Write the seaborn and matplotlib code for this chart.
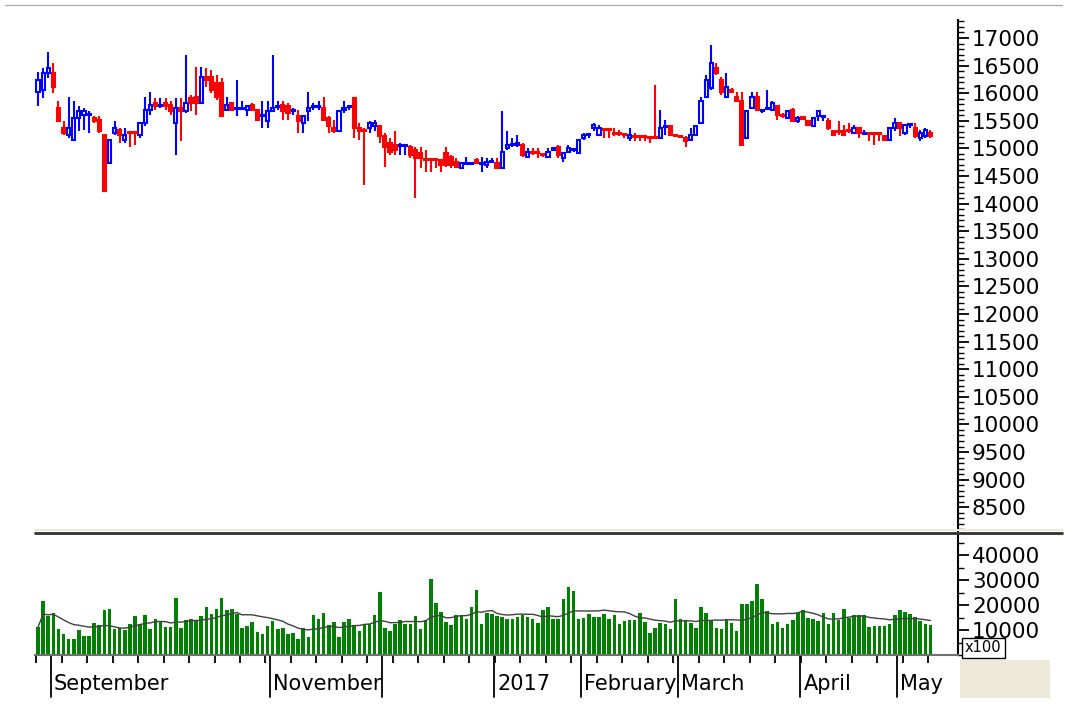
import numpy as np
import pandas as pd
import matplotlib
matplotlib.use("Agg")
import matplotlib.pyplot as plt
import matplotlib.transforms as mtransforms
from matplotlib.patches import Rectangle
from matplotlib.lines import Line2D
from matplotlib.ticker import MultipleLocator, FixedLocator, NullFormatter
import seaborn as sns

# daily OHLC, late Aug 2016 - early May 2017
opens = [
    16030, 16060, 16360, 16360, 15730, 15370, 15250, 15160, 15550, 15610,
    15600, 15550, 15520, 15250, 14730, 15280, 15340, 15160, 15300, 15300,
    15250, 15460, 15700, 15820, 15760, 15820, 15790, 15460, 15730, 15670,
    15910, 15940, 15820, 16300, 16300, 16180, 16180, 15700, 15820, 15720,
    15720, 15700, 15790, 15700, 15580, 15490, 15670, 15750, 15790, 15760,
    15670, 15580, 15460, 15670, 15750, 15750, 15730, 15550, 15370, 15310,
    15700, 15750, 15910, 15370, 15340, 15370, 15400, 15400, 15220, 15100,
    15070, 15050, 15050, 15030, 14970, 14910, 14800, 14800, 14800, 14790,
    14910, 14850, 14760, 14640, 14720, 14720, 14790, 14720, 14700, 14750,
    14730, 14640, 15000, 15060, 15070, 15070, 14850, 14920, 14920, 14890,
    14850, 14980, 15030, 14820, 14940, 14970, 14910, 15190, 15240, 15370,
    15250, 15340, 15340, 15280, 15280, 15250, 15190, 15220, 15220, 15220,
    15190, 15190, 15190, 15390, 15400, 15250, 15220, 15190, 15160, 15250,
    15460, 15940, 16090, 16450, 16240, 15940, 16060, 15940, 15850, 15190,
    15730, 15940, 15670, 15720, 15700, 15760, 15610, 15550, 15700, 15490,
    15560, 15490, 15400, 15580, 15570, 15490, 15310, 15310, 15310, 15340,
    15280, 15370, 15270, 15280, 15280, 15280, 15220, 15160, 15370, 15460,
    15280, 15420, 15370, 15190, 15220, 15280,
]
highs = [
    16390, 16450, 16750, 16550, 15850, 15490, 15940, 15850, 15760, 15730,
    15670, 15580, 15580, 15250, 15160, 15490, 15370, 15370, 15310, 15310,
    15460, 15940, 16030, 15910, 15910, 15910, 15850, 15910, 15910, 16690,
    15970, 16480, 16480, 16450, 16420, 16330, 16270, 15940, 15820, 16240,
    15850, 15790, 15820, 15700, 15850, 15850, 16690, 15850, 15850, 15820,
    15730, 15700, 15580, 16030, 15820, 15850, 15940, 15580, 15520, 15670,
    15850, 15790, 15910, 15460, 15370, 15490, 15520, 15430, 15280, 15190,
    15310, 15100, 15070, 15070, 15030, 15030, 14970, 14820, 14820, 14790,
    15030, 14880, 14820, 14730, 14850, 14760, 14820, 14850, 14820, 14820,
    14820, 15670, 15310, 15190, 15250, 15100, 15000, 15000, 15000, 14910,
    15000, 15000, 15070, 14940, 15070, 15000, 15160, 15280, 15250, 15460,
    15430, 15370, 15370, 15370, 15340, 15280, 15370, 15280, 15250, 15250,
    15190, 16150, 15700, 15520, 15400, 15270, 15250, 15220, 15370, 15400,
    15940, 16330, 16870, 16540, 16300, 16360, 16090, 16030, 16030, 15670,
    16030, 16030, 15700, 16060, 15850, 15760, 15640, 15700, 15730, 15580,
    15580, 15520, 15550, 15670, 15610, 15550, 15340, 15490, 15430, 15460,
    15430, 15370, 15340, 15280, 15280, 15280, 15250, 15370, 15550, 15460,
    15430, 15430, 15460, 15340, 15370, 15340,
]
lows = [
    15760, 15910, 16270, 16000, 15490, 15250, 15190, 15130, 15310, 15340,
    15280, 15460, 15280, 14220, 14730, 15250, 15100, 15100, 15030, 15070,
    15190, 15400, 15610, 15700, 15730, 15700, 15610, 14880, 15130, 15640,
    15670, 15610, 15820, 16120, 16000, 15880, 15580, 15670, 15700, 15580,
    15700, 15580, 15670, 15490, 15370, 15370, 15670, 15700, 15520, 15520,
    15610, 15280, 15280, 15490, 15700, 15700, 15490, 15280, 15280, 15310,
    15640, 15700, 15190, 15160, 14340, 15280, 15310, 15100, 14660, 14880,
    14880, 14880, 14880, 14820, 14100, 14640, 14580, 14580, 14640, 14580,
    14670, 14640, 14640, 14640, 14700, 14700, 14730, 14580, 14640, 14730,
    14640, 14640, 14970, 15030, 15030, 14850, 14850, 14880, 14820, 14850,
    14850, 14970, 14820, 14760, 14910, 14940, 14910, 15160, 15190, 15310,
    15250, 15190, 15190, 15220, 15220, 15190, 15130, 15130, 15130, 15130,
    15100, 15180, 15190, 15250, 15250, 15200, 15190, 15030, 15130, 15220,
    15460, 15940, 16060, 16330, 15970, 15940, 16000, 15850, 15070, 15190,
    15730, 15670, 15640, 15700, 15700, 15520, 15550, 15550, 15490, 15460,
    15520, 15430, 15400, 15490, 15490, 15340, 15250, 15250, 15250, 15280,
    15280, 15190, 15250, 15130, 15070, 15130, 15160, 15130, 15310, 15220,
    15250, 15370, 15190, 15130, 15190, 15190,
]
closes = [
    16240, 16360, 16450, 16120, 15490, 15280, 15370, 15550, 15670, 15670,
    15610, 15490, 15310, 14220, 15160, 15370, 15250, 15250, 15280, 15280,
    15460, 15700, 15790, 15760, 15790, 15760, 15670, 15730, 15670, 15820,
    15820, 15820, 16300, 16240, 16060, 15940, 15580, 15790, 15700, 15730,
    15730, 15760, 15700, 15520, 15610, 15670, 15730, 15760, 15670, 15640,
    15700, 15490, 15580, 15730, 15760, 15760, 15520, 15400, 15310, 15670,
    15730, 15760, 15370, 15310, 15310, 15460, 15460, 15220, 15030, 14940,
    14970, 15065, 15065, 14880, 14820, 14820, 14790, 14790, 14790, 14700,
    14700, 14700, 14670, 14730, 14730, 14730, 14730, 14730, 14760, 14760,
    14640, 14940, 15070, 15070, 15100, 14880, 14940, 14910, 14910, 14880,
    14940, 15000, 14880, 14910, 15000, 14980, 15160, 15250, 15250, 15430,
    15370, 15330, 15330, 15270, 15270, 15240, 15250, 15210, 15210, 15210,
    15180, 15180, 15370, 15400, 15250, 15220, 15210, 15130, 15250, 15400,
    15850, 16240, 16540, 16360, 16030, 16120, 16030, 15850, 15070, 15670,
    15940, 15700, 15700, 15730, 15820, 15610, 15580, 15670, 15490, 15550,
    15540, 15430, 15550, 15670, 15580, 15370, 15250, 15300, 15250, 15310,
    15370, 15280, 15280, 15270, 15270, 15270, 15160, 15370, 15460, 15370,
    15430, 15430, 15220, 15280, 15340, 15220,
]
# volume (x100)
volume = [
    11200, 21500, 15500, 17000, 10600, 8600, 6400, 6400, 10000, 7800,
    7800, 12800, 12200, 17900, 18500, 10500, 10800, 10100, 12500, 15500,
    11900, 16100, 10300, 14500, 13500, 11200, 11200, 22800, 10800, 13900,
    14500, 13500, 15500, 19200, 16500, 18300, 22800, 17900, 18500, 16500,
    10800, 11600, 13200, 9200, 8500, 11600, 13500, 10300, 10800, 8300,
    8800, 6500, 10800, 7200, 16100, 14500, 16900, 11900, 13200, 7200,
    13200, 14500, 12100, 9600, 12100, 12500, 16100, 25200, 10800, 9500,
    12500, 13900, 12500, 12500, 15500, 10300, 13900, 30500, 20800, 17200,
    13200, 11900, 16100, 16100, 14500, 19200, 25900, 12500, 16900, 16500,
    15500, 15200, 14500,
    14500, 15200, 16100, 15200, 14500, 12800, 17900, 19200, 14300, 14300,
    22300, 27100, 25700, 14300, 14900, 16500, 15200, 15200, 16500, 14300,
    15900, 12500, 13500, 13900, 13900, 17000, 13200, 8900, 11000, 13000,
    12500, 10500, 22300, 14300, 13900, 12800, 10800, 19200, 16900, 13900,
    10800, 10300, 14500, 12900, 9500, 20300, 20300, 21600, 28300, 22300,
    17500, 12500, 13200, 10800, 12500, 13900, 16900, 17900, 14800, 14500,
    13500, 16900, 12500, 16900, 13900, 18300, 14800, 16100, 15900, 16100,
    11200, 11600, 11600, 11600, 12300, 16100, 17900, 17200, 16500, 15200,
    13500, 12500, 12000,
]
month_labels = ["September", "November", "", "2017", "February", "March", "April", "May"]
month_start = [3, 46, 68, 90, 107, 126, 150, 169]

BLUE = "#0000FF"
RED = "#FF0000"
GREEN = "#008000"

W, H = 1066, 707
def fx(px):
    return px / W
def fy(py):
    return 1 - py / H

sns.set_theme(style="white")
plt.rcParams["font.family"] = ["DejaVu Sans"]

df = pd.DataFrame({"open": opens, "high": highs, "low": lows, "close": closes, "volume": volume})
df["i"] = np.arange(len(df))
df["ma"] = df["volume"].rolling(13, min_periods=1).mean()
up = df["close"] >= df["open"]

fig = plt.figure(figsize=(W / 100, H / 100), dpi=100)
fig.patch.set_facecolor("white")
ax = fig.add_axes([fx(35), fy(531), fx(958) - fx(35), fy(20) - fy(531)])
axv = fig.add_axes([fx(35), fy(655), fx(958) - fx(35), fy(535) - fy(655)], sharex=ax)

# candles: wicks first, bodies on top (blue hollow, red filled)
ax.vlines(df["i"], df["low"], df["high"], colors=np.where(up, BLUE, RED), linewidth=1.5, zorder=2)
body_lo = np.minimum(df["open"], df["close"])
body_h = np.maximum((df["close"] - df["open"]).abs(), 18)
ax.bar(df["i"][up], body_h[up], bottom=body_lo[up], width=0.62,
       facecolor="white", edgecolor=BLUE, linewidth=1.5, zorder=3)
ax.bar(df["i"][~up], body_h[~up], bottom=body_lo[~up], width=0.62,
       facecolor=RED, edgecolor=RED, linewidth=1.5, zorder=3)

ax.set_xlim(-0.6, 180.4)
ax.set_ylim(8070, 17326)
for s in ["left", "top", "bottom"]:
    ax.spines[s].set_visible(False)
ax.spines["right"].set_color("black")
ax.spines["right"].set_linewidth(1.5)
ax.yaxis.tick_right()
ax.yaxis.set_major_locator(MultipleLocator(500))
ax.yaxis.set_minor_locator(MultipleLocator(100))
ax.tick_params(axis="y", which="major", right=True, length=8, width=1.3, color="black",
               labelsize=15.5, pad=2, labelcolor="black")
ax.tick_params(axis="y", which="minor", right=True, length=4, width=1, color="black")
ax.tick_params(axis="x", which="both", bottom=False, labelbottom=False)

# volume with moving average
axv.bar(df["i"], df["volume"], width=0.7, color=GREEN, linewidth=0, zorder=2)
sns.lineplot(x=df["i"], y=df["ma"], ax=axv, color="#404040", linewidth=1, zorder=3)
axv.set_ylim(0, 48000)
axv.set_xlabel("")
axv.set_ylabel("")
for s in ["left", "top"]:
    axv.spines[s].set_visible(False)
axv.spines["right"].set_color("black")
axv.spines["right"].set_linewidth(1.5)
axv.spines["bottom"].set_color("#707070")
axv.spines["bottom"].set_linewidth(1.5)
axv.yaxis.tick_right()
axv.yaxis.set_major_locator(FixedLocator([10000, 20000, 30000, 40000]))
axv.yaxis.set_minor_locator(MultipleLocator(5000))
axv.tick_params(axis="y", which="major", right=True, length=8, width=1.3, color="black",
                labelsize=15.5, pad=2, labelcolor="black")
axv.tick_params(axis="y", which="minor", right=True, length=4, width=1, color="black")

# weekly ticks on the date axis
axv.xaxis.set_major_locator(FixedLocator(np.arange(-0.4, 176, 5)))
axv.xaxis.set_major_formatter(NullFormatter())
axv.tick_params(axis="x", which="major", bottom=True, length=6, width=1.3, color="black", direction="out")

# month separators and labels
trans = mtransforms.blended_transform_factory(axv.transData, axv.transAxes)
for name, start in zip(month_labels, month_start):
    xm = start - 0.5
    axv.add_line(Line2D([xm, xm], [0, -0.35], transform=trans, color="black", lw=1.3, clip_on=False))
    if name:
        axv.text(xm + 0.6, -0.24, name, transform=trans, fontsize=15, va="center", ha="left", color="black")

# pane separator
fig.add_artist(Line2D([fx(35), fx(1062)], [fy(529.5), fy(529.5)], color="#ECE9D8", lw=1.5))
fig.add_artist(Line2D([fx(35), fx(1062)], [fy(533), fy(533)], color="#303030", lw=2))

# x100 box and corner panel
fig.patches.append(Rectangle((fx(960), fy(698)), fx(1050) - fx(960), 38 / H,
                             transform=fig.transFigure, facecolor="#ECE9D8", edgecolor="none", zorder=0))
fig.text(fx(965), fy(648), "x100", fontsize=10.5, va="center", ha="left", color="black",
         bbox=dict(boxstyle="square,pad=0.2", facecolor="white", edgecolor="black", linewidth=1))

# outer frame
fig.add_artist(Line2D([fx(5), fx(1062)], [fy(5), fy(5)], color="#B0B0B0", lw=1))

fig.savefig("out.png", dpi=100)
